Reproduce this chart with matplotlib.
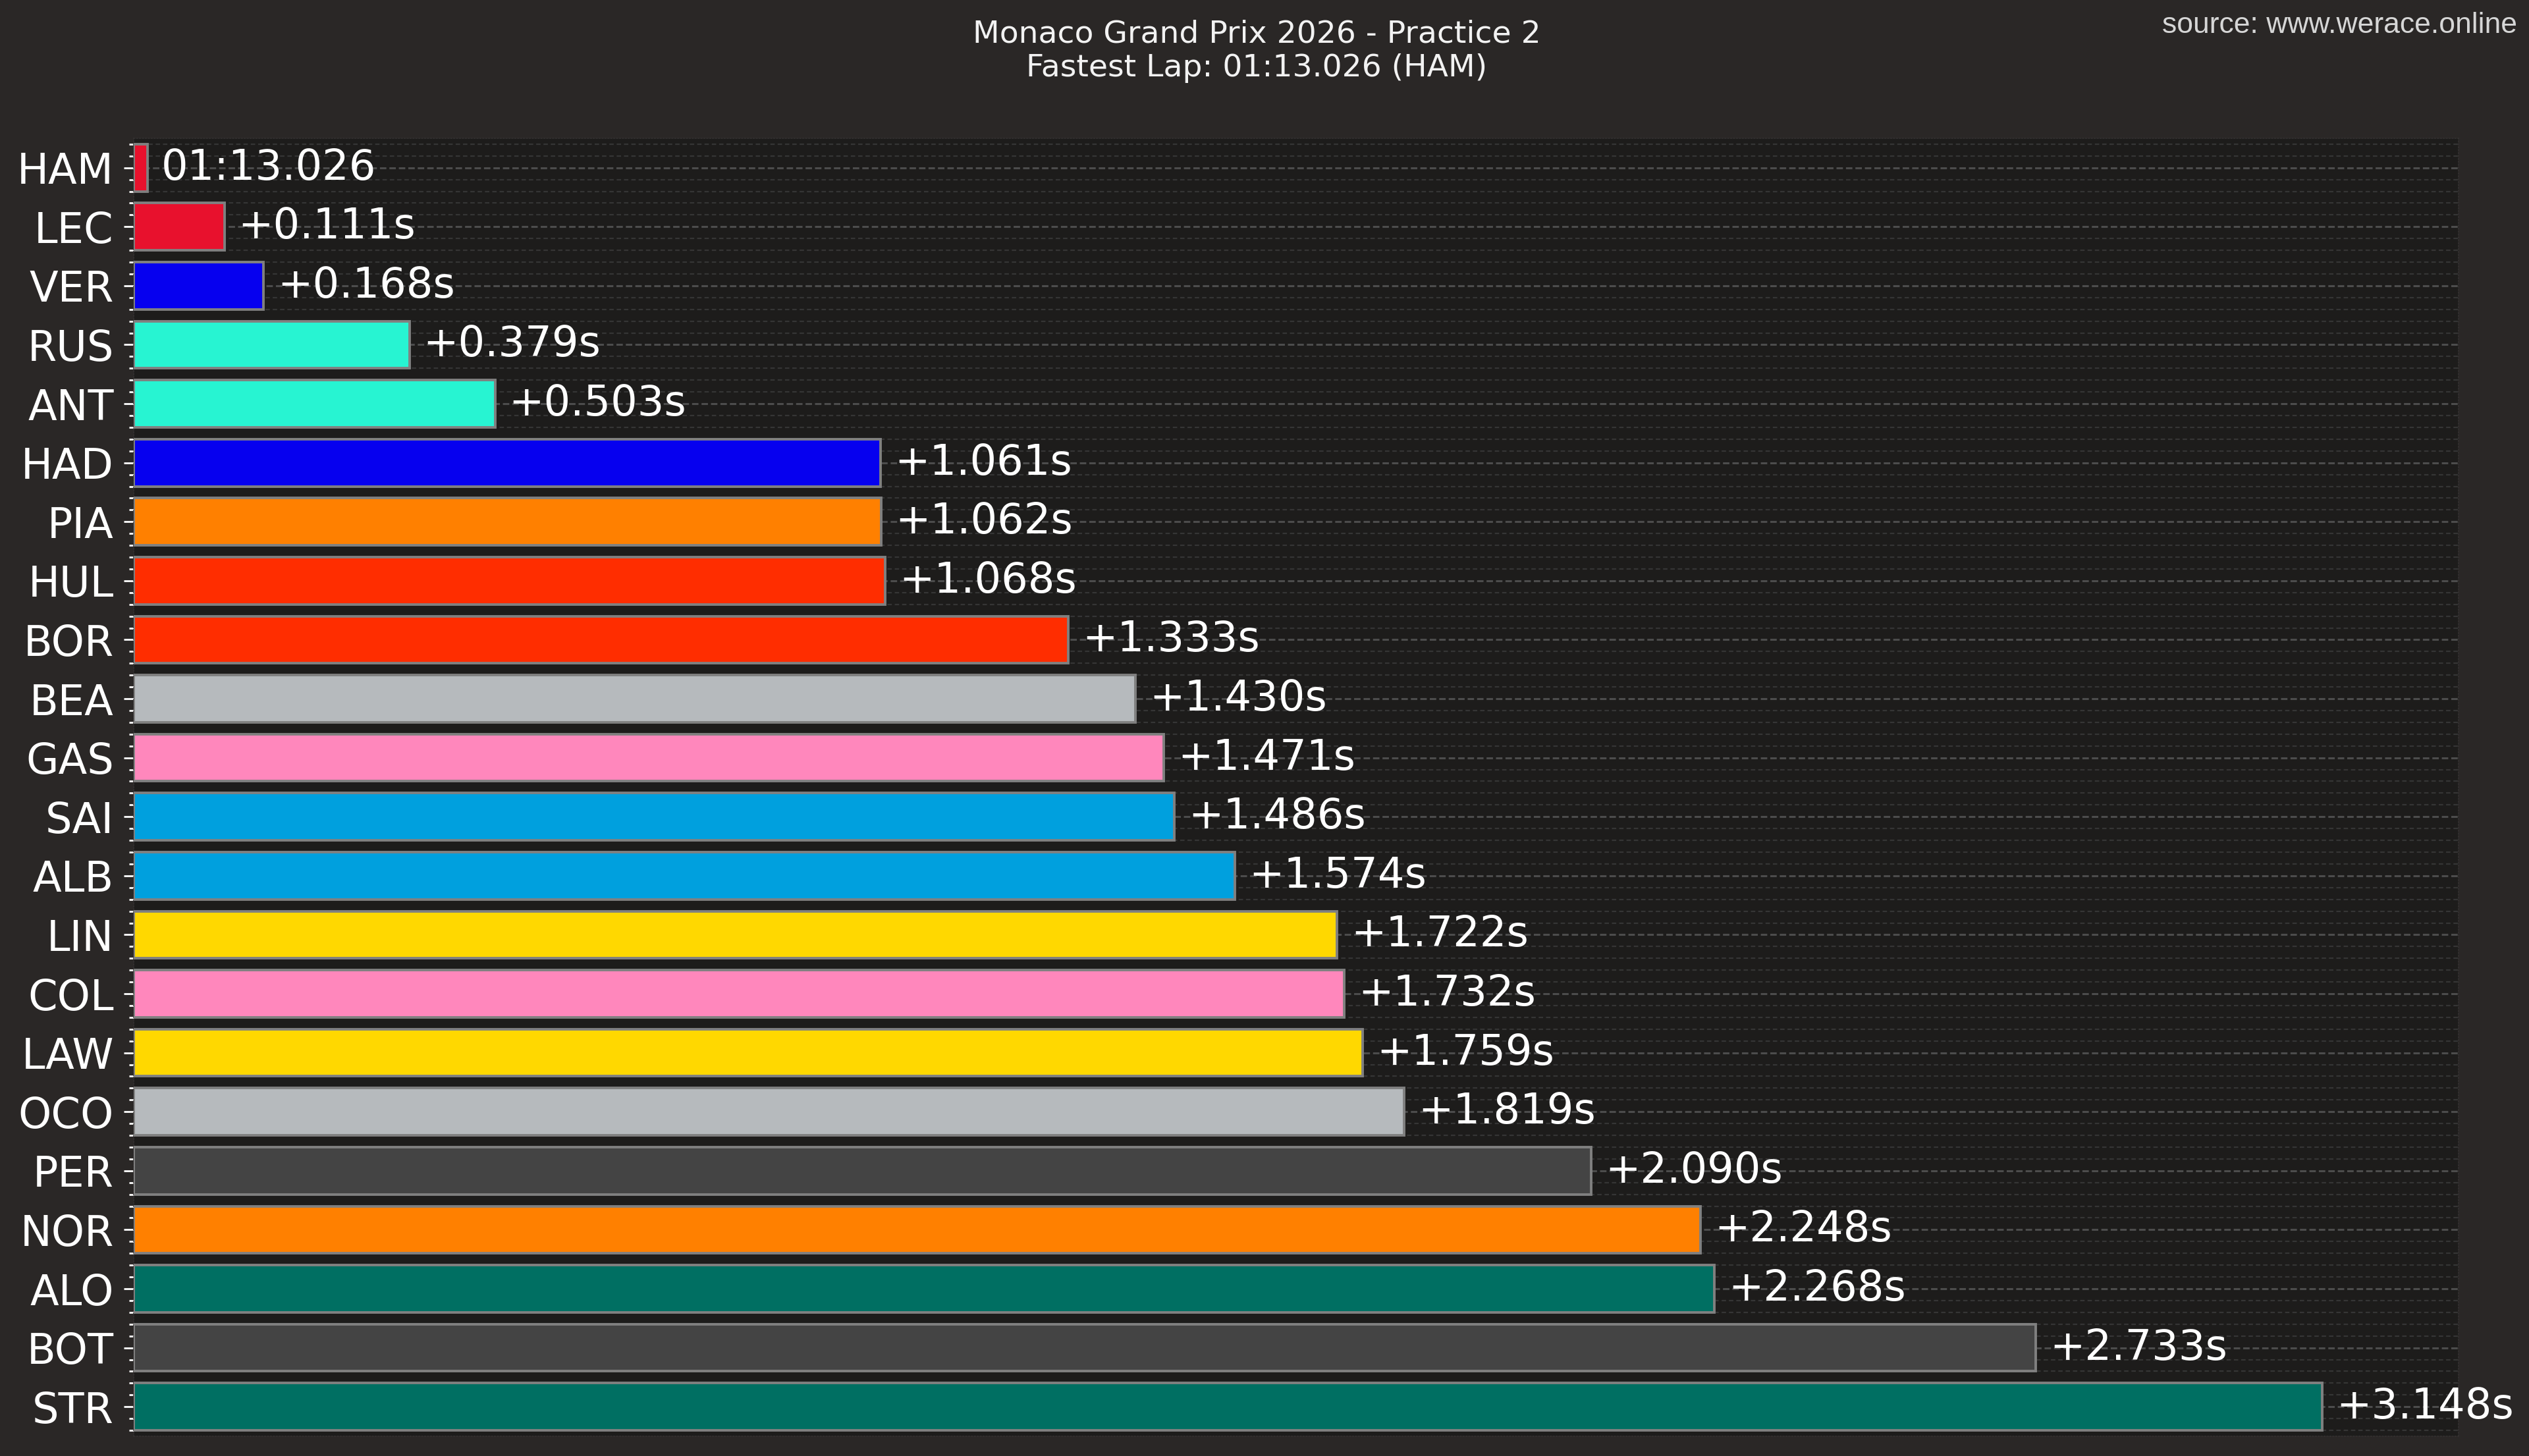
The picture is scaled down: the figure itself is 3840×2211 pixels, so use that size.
import matplotlib
matplotlib.use("Agg")
import matplotlib.pyplot as plt
from matplotlib.ticker import MultipleLocator, NullLocator

drivers = ['HAM', 'LEC', 'VER', 'RUS', 'ANT', 'HAD', 'PIA', 'HUL', 'BOR', 'BEA', 'GAS',
           'SAI', 'ALB', 'LIN', 'COL', 'LAW', 'OCO', 'PER', 'NOR', 'ALO', 'BOT', 'STR']
gaps = [0.0, 0.111, 0.168, 0.379, 0.503, 1.061, 1.062, 1.068, 1.333, 1.430, 1.471,
        1.486, 1.574, 1.722, 1.732, 1.759, 1.819, 2.090, 2.248, 2.268, 2.733, 3.148]
bar_colors = ['#E8112D', '#E8112D', '#0600EF', '#27F4D2', '#27F4D2', '#0600EF', '#FF8000',
              '#FF2D00', '#FF2D00', '#B6BABD', '#FF87BC', '#00A0DE', '#00A0DE', '#FFD800',
              '#FF87BC', '#FFD800', '#B6BABD', '#444444', '#FF8000', '#006F62', '#444444',
              '#006F62']
fastest_lap = '01:13.026'
title = 'Monaco Grand Prix 2026 - Practice 2\nFastest Lap: 01:13.026 (HAM)'
source = 'source: www.werace.online'

BAR_OFFSET = 0.02
FIG_BG = '#2a2726'
AX_BG = '#1d1c1b'
LABEL_FS = 23

fig = plt.figure(figsize=(19.2, 11.055), dpi=200, facecolor=FIG_BG)
ax = fig.add_axes([0.0529, 0.01357, 0.9192, 0.8915])
ax.set_facecolor(AX_BG)

y = list(range(len(drivers)))
widths = [g + BAR_OFFSET for g in gaps]
ax.barh(y, widths, height=0.8, color=bar_colors, edgecolor='#808080', linewidth=1.4, zorder=3)

for i, (g, w) in enumerate(zip(gaps, widths)):
    txt = fastest_lap if i == 0 else f'+{g:.3f}s'
    ax.text(w + 0.02, i, txt, ha='left', va='center', fontsize=LABEL_FS, color='white', zorder=4)

ax.set_ylim(len(drivers) - 0.5, -0.5)
ax.set_xlim(0, 3.365)
ax.set_yticks(y)
ax.set_yticklabels(drivers)
ax.yaxis.set_minor_locator(MultipleLocator(0.2))
ax.xaxis.set_major_locator(NullLocator())
ax.tick_params(axis='y', which='major', labelsize=LABEL_FS, labelcolor='white', colors='white',
               length=5.4, width=1.0, pad=5.5)
ax.tick_params(axis='y', which='minor', colors='white', length=2.4, width=1.0)

ax.grid(axis='y', which='major', linestyle=(0, (3.2, 1.5)), color='#4c4c4c', linewidth=1.1, zorder=1)
ax.grid(axis='y', which='minor', linestyle=(0, (3, 2)), color='#353535', linewidth=0.8, zorder=1)

for sp in ax.spines.values():
    sp.set_color('#333030')
    sp.set_linewidth(0.6)
    sp.set_linestyle(':')

fig.text(0.497, 1 - 78 / 2211, title, ha='center', va='center', fontsize=17, color='#f2f2f2',
         linespacing=1.2)
fig.text(0.9953, 1 - 39 / 2211, source, ha='right', va='center', fontsize=16,
         color='#d6d6d6', family='Liberation Sans')

fig.savefig('out.png', dpi=200, facecolor=FIG_BG)
